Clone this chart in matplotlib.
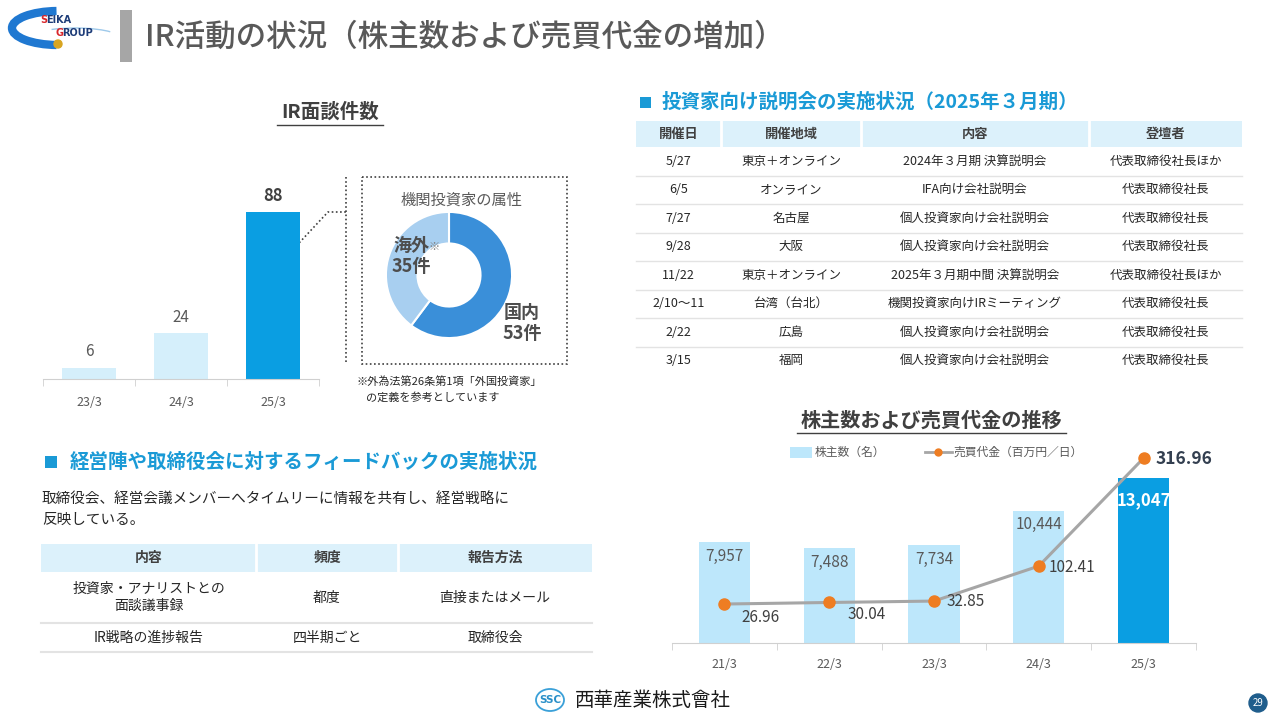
import matplotlib
matplotlib.use('Agg')
import matplotlib.pyplot as plt
from matplotlib.patches import Rectangle, Ellipse, Arc, Circle

# CJK font first, DejaVu as fallback for anything missing
plt.rcParams['font.family'] = ['Noto Sans CJK JP', 'DejaVu Sans']

W, H = 1280, 719

# ---- data ----
# IR interviews
ir_years = ['23/3', '24/3', '25/3']
ir_counts = [6, 24, 88]
attr_names = ['国内', '海外']
attr_counts = [53, 35]

# investor briefings (FY2025/3)
brief_cols = ['開催日', '開催地域', '内容', '登壇者']
brief_dates = ['5/27', '6/5', '7/27', '9/28', '11/22', '2/10～11', '2/22', '3/15']
brief_places = ['東京＋オンライン', 'オンライン', '名古屋', '大阪', '東京＋オンライン',
                '台湾（台北）', '広島', '福岡']
brief_topics = ['2024年３月期 決算説明会', 'IFA向け会社説明会', '個人投資家向け会社説明会',
                '個人投資家向け会社説明会', '2025年３月期中間 決算説明会',
                '機関投資家向けIRミーティング', '個人投資家向け会社説明会', '個人投資家向け会社説明会']
brief_speakers = ['代表取締役社長ほか', '代表取締役社長', '代表取締役社長', '代表取締役社長',
                  '代表取締役社長ほか', '代表取締役社長', '代表取締役社長', '代表取締役社長']

# feedback table
fb_cols = ['内容', '頻度', '報告方法']
fb_items = ['投資家・アナリストとの\n面談議事録', 'IR戦略の進捗報告']
fb_freq = ['都度', '四半期ごと']
fb_method = ['直接またはメール', '取締役会']

# shareholders and trading value
sh_years = ['21/3', '22/3', '23/3', '24/3', '25/3']
sh_counts = [7957, 7488, 7734, 10444, 13047]
turnover = [26.96, 30.04, 32.85, 102.41, 316.96]

# colours
GRAY_T = '#595959'
DARK = '#404040'
BLUE_H = '#1a9ad6'
HEAD_FILL = '#dcf1fb'
BAR_DARK = '#0a9ee2'
LINE_SEP = '#e3e3e3'

fig = plt.figure(figsize=(12.8, 7.19), dpi=100)

# background axes in pixel coordinates for layout pieces
bg = fig.add_axes([0, 0, 1, 1])
bg.set_xlim(0, W)
bg.set_ylim(H, 0)
bg.axis('off')


def px_axes(x0, y0, x1, y1):
    a = fig.add_axes([x0 / W, 1 - y1 / H, (x1 - x0) / W, (y1 - y0) / H])
    a.patch.set_alpha(0)
    return a


# ---- logo & title ----
bg.add_patch(Arc((58, 28), 92, 34, theta1=95, theta2=265, color='#1f78d1', lw=6))
bg.add_patch(Arc((75, 38), 90, 20, theta1=200, theta2=350, color='#9ec9ea', lw=1))
bg.text(40, 20, 'S', color='#d9262b', fontsize=7, fontweight='bold', va='center', family='DejaVu Sans')
bg.text(46, 20, 'EIKA', color='#1d3c78', fontsize=7, fontweight='bold', va='center', family='DejaVu Sans')
bg.text(55, 33, 'G', color='#d9262b', fontsize=7, fontweight='bold', va='center', family='DejaVu Sans')
bg.text(62, 33, 'ROUP', color='#1d3c78', fontsize=7, fontweight='bold', va='center', family='DejaVu Sans')
bg.add_patch(Circle((58, 44), 4, color='#d8a521'))

bg.add_patch(Rectangle((120, 10), 12, 52, color='#a6a6a6', lw=0))
bg.text(145, 37, 'IR活動の状況（株主数および売買代金の増加）', fontsize=22, color=GRAY_T,
        va='center', ha='left', fontweight='medium')

# ---- IR interviews bar chart ----
bg.text(330, 112, 'IR面談件数', fontsize=14, fontweight='bold', color=DARK, ha='center', va='center')
bg.plot([277, 383], [125, 125], color=DARK, lw=1)

ax1 = px_axes(43, 190, 319, 379)
ir_x = range(len(ir_years))
ax1.bar(ir_x, ir_counts, width=0.58, color=['#d5effb', '#d5effb', BAR_DARK])
ax1.set_xlim(-0.5, 2.5)
ax1.set_ylim(0, 99.5)
for i, v in enumerate(ir_counts):
    last = i == len(ir_counts) - 1
    ax1.annotate(str(v), (i, v), xytext=(0, 16), textcoords='offset pixels', ha='center', va='center',
                 fontsize=12 if last else 11, fontweight='bold' if last else 'normal',
                 color=DARK if last else GRAY_T)
ax1.set_xticks(list(ir_x))
ax1.set_xticklabels(ir_years, fontsize=9, color=GRAY_T)
ax1.set_xticks([-0.5, 0.5, 1.5, 2.5], minor=True)
ax1.tick_params(axis='x', which='major', length=0, pad=12)
ax1.tick_params(axis='x', which='minor', length=5, color='#d0d0d0')
ax1.set_yticks([])
for s in ['top', 'right', 'left']:
    ax1.spines[s].set_visible(False)
ax1.spines['bottom'].set_color('#d0d0d0')

# dotted connector and box
bg.plot([285, 328, 346], [258, 212, 212], color=DARK, lw=1.2, ls=(0, (1, 1.5)))
bg.plot([346, 346], [177, 363], color=DARK, lw=1.2, ls=(0, (1, 1.5)))
bg.add_patch(Rectangle((362, 177), 205, 187, fill=False, ec=DARK, lw=1.2, ls=(0, (1, 1.5))))

# donut
bg.text(462, 200, '機関投資家の属性', fontsize=11, color=GRAY_T, ha='center', va='center')
axd = px_axes(379, 205, 519, 345)
axd.pie(attr_counts, colors=['#3a8fd9', '#a8cff0'], startangle=90, counterclock=False,
        wedgeprops=dict(width=0.5, edgecolor='white', linewidth=1.5), radius=1)
axd.set_xlim(-1.11, 1.11)
axd.set_ylim(-1.11, 1.11)
axd.set_aspect('equal')
bg.text(357, 382, '※外為法第26条第1項「外国投資家」', fontsize=8, color='#262626', ha='left', va='center')
bg.text(366, 397, 'の定義を参考としています', fontsize=8, color='#262626', ha='left', va='center')

# ---- investor briefing table ----
bg.add_patch(Rectangle((640, 97), 11, 11, color=BLUE_H, lw=0))
bg.text(662, 102, '投資家向け説明会の実施状況（2025年３月期）', fontsize=14, fontweight='bold',
        color=BLUE_H, ha='left', va='center')

b_edges = [636, 721, 861, 1089, 1242]
bg.add_patch(Rectangle((636, 121), 606, 26, color=HEAD_FILL, lw=0))
for xe in b_edges[1:-1]:
    bg.plot([xe, xe], [121, 147], color='white', lw=2)
for i, c in enumerate(brief_cols):
    bg.text((b_edges[i] + b_edges[i + 1]) / 2, 134, c, fontsize=9.5, fontweight='bold',
            color=DARK, ha='center', va='center')
rh = 28.5
cols_data = [brief_dates, brief_places, brief_topics, brief_speakers]
for r in range(len(brief_dates)):
    yc = 147 + rh * (r + 0.5)
    for i, col in enumerate(cols_data):
        bg.text((b_edges[i] + b_edges[i + 1]) / 2, yc, col[r], fontsize=9, color='#262626',
                ha='center', va='center')
    if r < len(brief_dates) - 1:
        bg.plot([636, 1242], [147 + rh * (r + 1)] * 2, color=LINE_SEP, lw=1)

# ---- feedback section ----
bg.add_patch(Rectangle((45, 456), 12, 12, color=BLUE_H, lw=0))
bg.text(70, 462, '経営陣や取締役会に対するフィードバックの実施状況', fontsize=14, fontweight='bold',
        color=BLUE_H, ha='left', va='center')
bg.text(42, 500, '取締役会、経営会議メンバーへタイムリーに情報を共有し、経営戦略に', fontsize=10.5,
        color='#262626', ha='left', va='center')
bg.text(42, 520, '反映している。', fontsize=10.5, color='#262626', ha='left', va='center')

f_edges = [41, 256, 398, 592]
bg.add_patch(Rectangle((41, 544), 551, 28, color=HEAD_FILL, lw=0))
for xe in f_edges[1:-1]:
    bg.plot([xe, xe], [544, 572], color='white', lw=2)
for i, c in enumerate(fb_cols):
    bg.text((f_edges[i] + f_edges[i + 1]) / 2, 558, c, fontsize=10, fontweight='bold',
            color=DARK, ha='center', va='center')
row_bounds = [572, 623, 652]
fb_data = [fb_items, fb_freq, fb_method]
for r in range(len(fb_items)):
    yc = (row_bounds[r] + row_bounds[r + 1]) / 2
    for i, col in enumerate(fb_data):
        bg.text((f_edges[i] + f_edges[i + 1]) / 2, yc, col[r], fontsize=10, color='#262626',
                ha='center', va='center', linespacing=1.3)
    bg.plot([41, 592], [row_bounds[r + 1]] * 2, color=LINE_SEP, lw=1.5)

# ---- shareholders / trading value chart ----
bg.text(931, 420, '株主数および売買代金の推移', fontsize=14.5, fontweight='bold', color=DARK,
        ha='center', va='center')
bg.plot([797, 1066], [433, 433], color=DARK, lw=1)

# legend
bg.add_patch(Rectangle((790, 447), 22, 11, color='#bde7fb', lw=0))
bg.text(815, 452, '株主数（名）', fontsize=8.5, color=GRAY_T, ha='left', va='center')
bg.plot([925, 952], [452, 452], color='#a6a6a6', lw=2)
bg.plot([938], [452], 'o', color='#ee7d22', ms=5)
bg.text(954, 452, '売買代金（百万円／日）', fontsize=8.5, color=GRAY_T, ha='left', va='center')

ax2 = px_axes(672, 440, 1196, 643)
sx = range(len(sh_years))
ax2.bar(sx, sh_counts, width=0.49, color=['#bde7fb'] * 4 + [BAR_DARK])
ax2.set_xlim(-0.5, 4.5)
ax2.set_ylim(0, 16050)
for i, v in enumerate(sh_counts):
    last = i == len(sh_counts) - 1
    ax2.annotate(f'{v:,}', (i, v), xytext=(0, -22 if last else -14), textcoords='offset pixels',
                 ha='center', va='center', fontsize=12 if last else 11,
                 fontweight='bold' if last else 'normal', color='white' if last else GRAY_T)
ax2.set_xticks(list(sx))
ax2.set_xticklabels(sh_years, fontsize=9, color=GRAY_T)
ax2.set_xticks([-0.5, 0.5, 1.5, 2.5, 3.5, 4.5], minor=True)
ax2.tick_params(axis='x', which='major', length=0, pad=11)
ax2.tick_params(axis='x', which='minor', length=5, color='#d0d0d0')
ax2.set_yticks([])
for s in ['top', 'right', 'left']:
    ax2.spines[s].set_visible(False)
ax2.spines['bottom'].set_color('#d0d0d0')

ax3 = ax2.twinx()
ax3.patch.set_alpha(0)
ax3.plot(list(sx), turnover, color='#a6a6a6', lw=2.2, marker='o', ms=8,
         mfc='#ee7d22', mec='#ee7d22', zorder=3)
ax3.set_ylim(-50.5, 353)
ax3.set_yticks([])
for s in ax3.spines.values():
    s.set_visible(False)
lbl_off = [(36, -13, 'center'), (37, -12, 'center'), (13, 0, 'left'), (10, -1, 'left'), (12, -1, 'left')]
for i, v in enumerate(turnover):
    dx, dy, ha = lbl_off[i]
    last = i == len(turnover) - 1
    ax3.annotate(f'{v:.2f}', (i, v), xytext=(dx, dy), textcoords='offset pixels', ha=ha, va='center',
                 fontsize=12.5 if last else 11, fontweight='bold' if last else 'normal',
                 color='#333f50' if last else DARK)

# ---- footer ----
bg.add_patch(Ellipse((550, 700), 28, 22, fill=False, ec='#3aa0d8', lw=1.3))
bg.text(550, 700, 'SSC', fontsize=7.5, color='#2a8fc8', ha='center', va='center',
        family='DejaVu Sans', fontweight='bold')
bg.text(575, 700, '西華産業株式會社', fontsize=14, color='#1a1a1a', ha='left', va='center')
bg.add_patch(Circle((1258, 703), 9, color='#1f5d8c'))
bg.text(1258, 703, '29', fontsize=7, color='white', ha='center', va='center')

# ---- top overlay for labels sitting on the donut ----
fg = fig.add_axes([0, 0, 1, 1])
fg.set_xlim(0, W)
fg.set_ylim(H, 0)
fg.axis('off')
fg.text(522, 323, f'{attr_names[0]}\n{attr_counts[0]}件', fontsize=13, fontweight='bold',
        color='#4d4d4d', ha='center', va='center', linespacing=1.1)
fg.text(411, 256, f'{attr_names[1]}\n{attr_counts[1]}件', fontsize=13, fontweight='bold',
        color='#4d4d4d', ha='center', va='center', linespacing=1.1)
fg.text(429, 247, '※', fontsize=8, color='#808080', ha='left', va='center')

fig.savefig('out.png', dpi=100)
